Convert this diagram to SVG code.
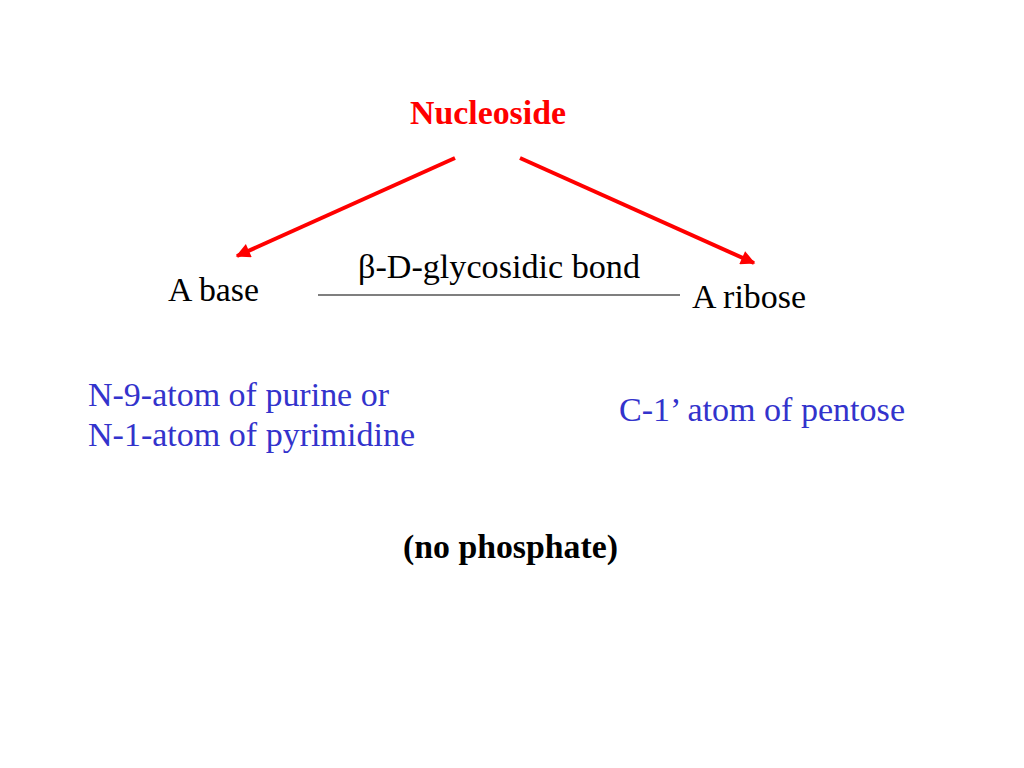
<svg xmlns="http://www.w3.org/2000/svg" width="1024" height="768" viewBox="0 0 1024 768">
<defs>
<style>
text{font-family:"Liberation Serif","Times New Roman",serif}
.title{font-size:34px;font-weight:bold;fill:#FF0000}
.lbl{font-size:33px;fill:#000}
.blue{font-size:34px;fill:#3333CC}
.bold{font-size:33px;font-weight:bold;fill:#000}
.arrow{stroke:#FF0000;stroke-width:4;fill:none}
</style>
<marker id="ah" viewBox="0 0 10 10" refX="9" refY="5" markerWidth="4.2" markerHeight="3.6" orient="auto" markerUnits="strokeWidth">
<path d="M0,0 L10,5 L0,10 Z" fill="#FF0000"/>
</marker>
</defs>
<rect width="1024" height="768" fill="#fff"/>
<g id="connectors">
<line class="arrow" x1="455" y1="158" x2="237" y2="256" marker-end="url(#ah)"/>
<line class="arrow" x1="520" y1="158" x2="754" y2="263" marker-end="url(#ah)"/>
<line x1="318" y1="295" x2="680" y2="295" stroke="#000" stroke-width="1.2"/>
</g>
<g id="nucleoside"><text class="title" x="410" y="124" textLength="156" lengthAdjust="spacingAndGlyphs">Nucleoside</text></g>
<g id="base"><text class="lbl" x="168" y="301" textLength="91" lengthAdjust="spacingAndGlyphs">A base</text></g>
<g id="ribose"><text class="lbl" x="692" y="308" textLength="114" lengthAdjust="spacingAndGlyphs">A ribose</text></g>
<g id="bond"><text class="lbl" x="358" y="278" textLength="282" lengthAdjust="spacingAndGlyphs">β-D-glycosidic bond</text></g>
<g id="base-atom">
<text class="blue" x="88" y="406" textLength="301" lengthAdjust="spacingAndGlyphs">N-9-atom of purine or</text>
<text class="blue" x="88" y="446" textLength="327" lengthAdjust="spacingAndGlyphs">N-1-atom of pyrimidine</text>
</g>
<g id="ribose-atom"><text class="blue" x="619" y="421" textLength="286" lengthAdjust="spacingAndGlyphs">C-1’ atom of pentose</text></g>
<g id="note"><text class="bold" x="403" y="558" textLength="215" lengthAdjust="spacingAndGlyphs">(no phosphate)</text></g>
</svg>
